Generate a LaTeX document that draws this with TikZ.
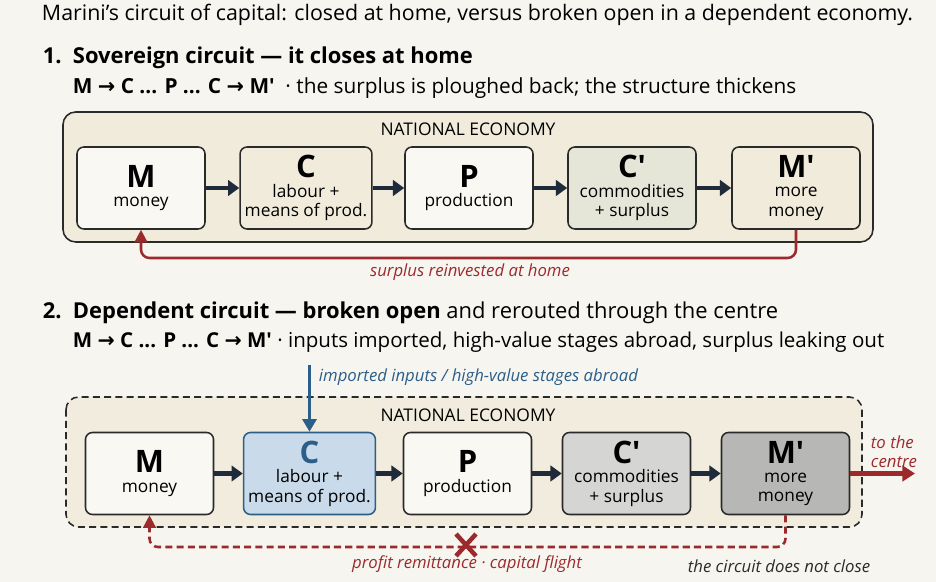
\documentclass[tikz,border=0pt]{standalone}
\usepackage{fontspec}
\setmainfont{Open Sans}
\newfontfamily\symfont{DejaVu Sans}
\usetikzlibrary{positioning}
\usetikzlibrary{arrows}
\usetikzlibrary{arrows.meta}
\usetikzlibrary{calc}
\definecolor{paper}{HTML}{F6F5F0}
\definecolor{beige}{HTML}{F0EBDA}
\definecolor{chalk}{HTML}{F9F8F3}
\definecolor{sage}{HTML}{E6E6D8}
\definecolor{ink}{HTML}{2A2A2A}
\definecolor{navy}{HTML}{1F2B3A}
\definecolor{rust}{HTML}{9C2A2C}
\definecolor{steel}{HTML}{2B5E88}
\definecolor{skyfill}{HTML}{C9DBEA}
\definecolor{greyfill}{HTML}{D5D5D3}
\definecolor{darkfill}{HTML}{B7B7B5}
\newcommand{\letterfont}{\fontsize{22}{24}\selectfont\bfseries}
\newcommand{\arr}{{\symfont\bfseries →}}
\newcommand{\mcircuit}{\textbf{M \arr{} C ... P ... C \arr{} M\textquotesingle}}
\tikzset{>=latex}
\tikzstyle{stage}=[draw=ink,line width=1.1pt,rounded corners=5pt,shape=rectangle,fill=chalk,minimum width=3.2cm,minimum height=2.05cm,align=center,font=\fontsize{12.3}{13.8}\selectfont,text=black]
\tikzstyle{economy}=[draw=ink,line width=1.1pt,rounded corners=9pt,fill=beige]
\tikzstyle{tarrow}=[-{Triangle[length=8pt,width=11pt]},line width=3.4pt,color=navy]
\tikzstyle{backflow}=[-{Triangle[length=9pt,width=9pt]},line width=1.8pt,color=rust,rounded corners=6pt]
\tikzstyle{caption}=[font=\fontsize{11.9}{13.8}\selectfont\itshape]

\begin{document}
\begin{tikzpicture}[x=0.025cm,y=-0.025cm]
	\fill[paper] (0,0) rectangle (936,582);
	\useasboundingbox (0,0) rectangle (936,582);
	\node[anchor = west] (title) at (37, 15) {\fontsize{15.2}{17}\selectfont Marini’s circuit of capital: closed at home, versus broken open in a dependent economy.};
	
	% Sovereign
	\begin{scope}
	\node[anchor = west] (alabel) at (38, 58) {\fontsize{15.6}{18}\selectfont\bfseries \makebox[0.75cm][l]{1.}Sovereign circuit — it closes at home};
	\node[anchor = west] (aform) at (68, 88) {\fontsize{14.8}{17}\selectfont \mcircuit\ \ · the surplus is ploughed back; the structure thickens};
	\draw[economy] (63, 112) rectangle (873, 242);
	\node (nat1) at (468, 129) {\fontsize{12.4}{14}\selectfont NATIONAL ECONOMY};
	\node[stage] (m1) at (141, 188) {{\letterfont M}\\money};
	\node[stage, fill=beige] (c1) at ($(m1) + (165, 0)$) {{\letterfont C}\\labour +\\means of prod.};
	\node[stage] (p1) at ($(c1) + (163, 0)$) {{\letterfont P}\\production};
	\node[stage, fill=sage] (cp1) at ($(p1) + (163, 0)$) {{\letterfont C\textquotesingle}\\commodities\\+ surplus};
	\node[stage, fill=beige] (mp1) at ($(cp1) + (164, 0)$) {{\letterfont M\textquotesingle}\\more\\money};
	\draw[tarrow] (m1) -- (c1);
	\draw[tarrow] (c1) -- (p1);
	\draw[tarrow] (p1) -- (cp1);
	\draw[tarrow] (cp1) -- (mp1);
	\coordinate (home) at (0, 258);
	\draw[backflow] (mp1.south) -- (mp1.south |- home) -| (m1.south);
	\node[caption, text=rust] (homelabel) at (470, 272) {surplus reinvested at home};
	\end{scope}
	
	% Dependent
	\begin{scope}
	\node[anchor = west] (blabel) at (38, 313) {\fontsize{15.6}{18}\selectfont \makebox[0.75cm][l]{\bfseries 2.}\textbf{Dependent circuit — broken open} and rerouted through the centre};
	\node[anchor = west] (bform) at (68, 342) {\fontsize{14.6}{17}\selectfont \mcircuit\ · inputs imported, high-value stages abroad, surplus leaking out};
	\draw[economy, dash pattern=on 5pt off 3pt, fill=beige!85!paper] (66, 397) rectangle (862, 527);
	\node (nat2) at (468, 415) {\fontsize{12.4}{14}\selectfont NATIONAL ECONOMY};
	\node[stage] (m2) at (149.5, 473.5) {{\letterfont M}\\money};
	\node[stage, fill=skyfill, draw=steel] (c2) at ($(m2) + (160, 0)$) {{\letterfont\color{steel} C}\\labour +\\means of prod.};
	\node[stage] (p2) at ($(c2) + (158, 0)$) {{\letterfont P}\\production};
	\node[stage, fill=greyfill] (cp2) at ($(p2) + (159, 0)$) {{\letterfont C\textquotesingle}\\commodities\\+ surplus};
	\node[stage, fill=darkfill] (mp2) at ($(cp2) + (159, 0)$) {{\letterfont M\textquotesingle}\\more\\money};
	\draw[tarrow] (m2) -- (c2);
	\draw[tarrow] (c2) -- (p2);
	\draw[tarrow] (p2) -- (cp2);
	\draw[tarrow] (cp2) -- (mp2);
	\coordinate (abroad) at (309.5, 365);
	\draw[-{Triangle[length=9pt,width=10pt]}, line width=2.2pt, color=steel] (abroad) -- (c2);
	\node[caption, text=steel, anchor=west] (inlabel) at (314, 377) {imported inputs / high-value stages abroad};
	\coordinate (centre) at (915, 473.5);
	\draw[-{Triangle[length=9pt,width=11pt]}, line width=3pt, color=rust] (mp2) -- (centre);
	\node[caption, text=rust, anchor=west, align=left] (outlabel) at (866, 452) {to the\\centre};
	\coordinate (leak) at (0, 547);
	\draw[backflow, dash pattern=on 5pt off 3pt] (mp2.south) -- (mp2.south |- leak) -| (m2.south);
	\coordinate (cut) at (466, 545);
	\draw[line width=3.2pt, color=rust] ($(cut) + (-10, -11)$) -- ($(cut) + (10, 11)$);
	\draw[line width=3.2pt, color=rust] ($(cut) + (-10, 11)$) -- ($(cut) + (10, -11)$);
	\node[caption, text=rust] (leaklabel) at (467, 564) {profit remittance · capital flight};
	\node[caption, text=ink] (openlabel) at (779, 566) {the circuit does not close};
	\end{scope}
	
\end{tikzpicture}
\end{document}
